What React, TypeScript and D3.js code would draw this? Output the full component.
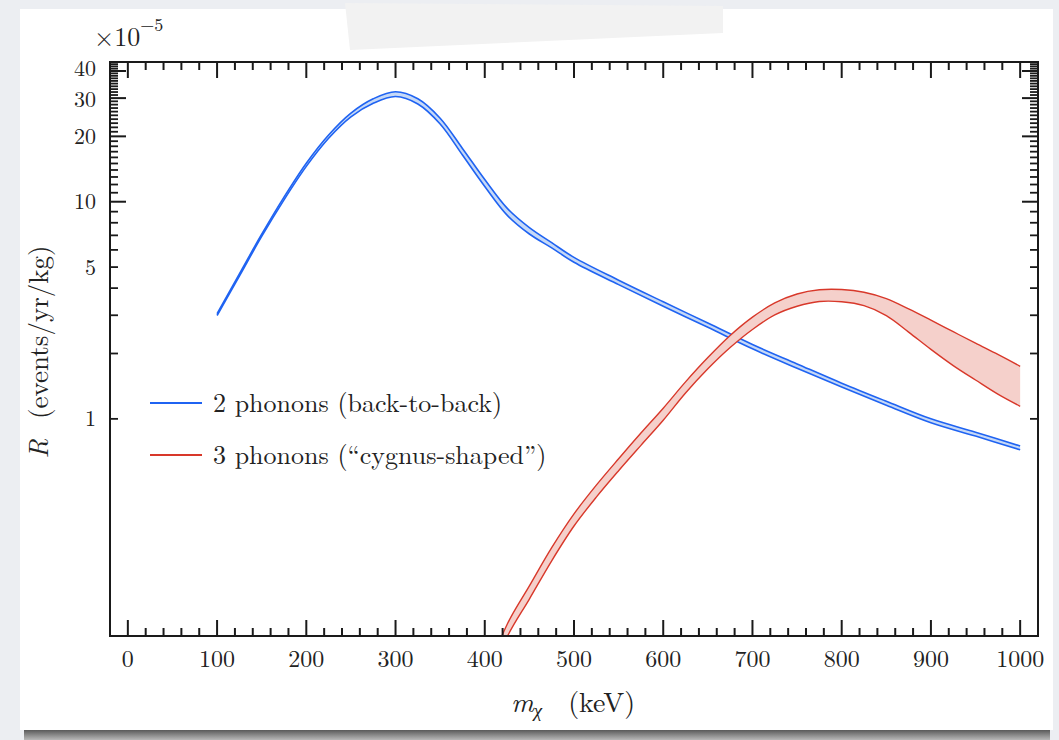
import React from "react";
import * as d3 from "d3";

// m_chi (keV) and rate (x1e-5 events/yr/kg), band edges
const blueX = [100, 125, 150, 175, 200, 225, 250, 275, 300, 325, 350, 375, 400, 425, 450, 475, 500, 550, 600, 650, 700, 750, 800, 850, 900, 950, 1000];
const blueHigh = [3.048, 4.653, 7.081, 10.5, 15.05, 20.3, 25.6, 29.8, 32.1, 29.8, 24.25, 17.6, 12.65, 9.34, 7.6, 6.48, 5.54, 4.35, 3.46, 2.763, 2.2, 1.791, 1.46, 1.205, 1.0, 0.868, 0.75];
const blueLow = [2.992, 4.547, 6.92, 10.2, 14.55, 19.6, 24.6, 28.4, 30.52, 28.2, 22.8, 16.4, 11.75, 8.67, 7.1, 6.13, 5.26, 4.15, 3.3, 2.639, 2.101, 1.71, 1.401, 1.156, 0.96, 0.833, 0.72];

const redX = [400, 425, 450, 475, 500, 525, 550, 575, 600, 625, 650, 675, 700, 725, 750, 775, 800, 825, 850, 875, 900, 925, 950, 975, 1000];
const redHigh = [0.063, 0.113, 0.17, 0.255, 0.365, 0.495, 0.655, 0.86, 1.12, 1.48, 1.915, 2.42, 2.94, 3.42, 3.76, 3.93, 3.94, 3.83, 3.58, 3.21, 2.85, 2.52, 2.23, 1.98, 1.746];
const redLow = [0.055, 0.099, 0.148, 0.222, 0.321, 0.436, 0.577, 0.755, 0.985, 1.315, 1.7, 2.13, 2.58, 3.01, 3.3, 3.47, 3.46, 3.32, 2.99, 2.51, 2.09, 1.76, 1.51, 1.3, 1.143];

const xMajor = [0, 100, 200, 300, 400, 500, 600, 700, 800, 900, 1000];
const xMinor = d3.range(20, 1000, 20).filter((v) => v % 100 !== 0);
const yLabels = [1, 5, 10, 20, 30, 40];
const yLong = [10, 20, 30, 40];
const yShort = d3.range(1, 45).filter((v) => !yLong.includes(v));

const legendNames = ["2 phonons (back-to-back)", "3 phonons (\u201ccygnus-shaped\u201d)"];

const W = 1059;
const H = 740;
const L = 110, R = 1038, T = 62, B = 636;
const FONT = "Latin Modern Roman, Liberation Serif, Times New Roman, DejaVu Serif, Noto Serif, serif";
const BLUE = "#1f63f2";
const BLUE_FILL = "#c6d9f7";
const RED = "#d8382a";
const RED_FILL = "#f5d0cb";

export default function App() {
  const x = d3.scaleLinear().domain([-20, 1020]).range([L, R]);
  const y = d3.scaleLog().domain([0.1, 44]).range([B, T]);

  const band = (xs: number[], lo: number[], hi: number[]) => {
    const pts = xs.map((v, i) => ({ x: v, lo: lo[i], hi: hi[i] }));
    const curve = d3.curveCatmullRom.alpha(0.5);
    const area = d3.area<any>().x((d) => x(d.x)).y0((d) => y(d.lo)).y1((d) => y(d.hi)).curve(curve);
    const lineLo = d3.line<any>().x((d) => x(d.x)).y((d) => y(d.lo)).curve(curve);
    const lineHi = d3.line<any>().x((d) => x(d.x)).y((d) => y(d.hi)).curve(curve);
    return { a: area(pts) || "", l: lineLo(pts) || "", h: lineHi(pts) || "" };
  };
  const blue = band(blueX, blueLow, blueHigh);
  const red = band(redX, redLow, redHigh);

  const tickStroke = "#1a1a1a";
  const txt = { fontFamily: FONT, fill: "#222" };

  return (
    <svg width={W} height={H} style={{ position: "absolute", left: 0, top: 0, fontFamily: FONT }}>
      <defs>
        <linearGradient id="shadow" x1="0" y1="0" x2="0" y2="1">
          <stop offset="0" stopColor="#5a5a5a" />
          <stop offset="1" stopColor="#b8b8b8" />
        </linearGradient>
        <clipPath id="plot">
          <rect x={L} y={T} width={R - L} height={B - T} />
        </clipPath>
      </defs>
      <rect width={W} height={H} fill="#eceef2" />
      <rect x={24} y={730} width={1026} height={10} fill="url(#shadow)" />
      <rect x={20} y={9} width={1033} height={721} fill="#ffffff" />
      <polygon points="345,3 723,6 723,33 350,50" fill="#f2f2f2" />

      {/* bands */}
      <g clipPath="url(#plot)">
        <path d={blue.a} fill={BLUE_FILL} />
        <path d={blue.l} fill="none" stroke={BLUE} strokeWidth={1.6} />
        <path d={blue.h} fill="none" stroke={BLUE} strokeWidth={1.6} />
        <path d={red.a} fill={RED_FILL} />
        <path d={red.l} fill="none" stroke={RED} strokeWidth={1.4} />
        <path d={red.h} fill="none" stroke={RED} strokeWidth={1.4} />
      </g>

      {/* frame */}
      <rect x={L} y={T} width={R - L} height={B - T} fill="none" stroke={tickStroke} strokeWidth={2} />

      {/* x ticks */}
      {xMajor.map((v) => (
        <g key={"xm" + v}>
          <line x1={x(v)} x2={x(v)} y1={B} y2={B - 16} stroke={tickStroke} strokeWidth={2} />
          <line x1={x(v)} x2={x(v)} y1={T} y2={T + 16} stroke={tickStroke} strokeWidth={2} />
          <text x={x(v)} y={667} textAnchor="middle" fontSize={24} style={txt}>{v}</text>
        </g>
      ))}
      {xMinor.map((v) => (
        <g key={"xn" + v}>
          <line x1={x(v)} x2={x(v)} y1={B} y2={B - 8} stroke={tickStroke} strokeWidth={2} />
          <line x1={x(v)} x2={x(v)} y1={T} y2={T + 8} stroke={tickStroke} strokeWidth={2} />
        </g>
      ))}

      {/* y ticks */}
      {yLong.map((v) => (
        <g key={"yl" + v}>
          <line x1={L} x2={L + 16} y1={y(v)} y2={y(v)} stroke={tickStroke} strokeWidth={2} />
          <line x1={R} x2={R - 16} y1={y(v)} y2={y(v)} stroke={tickStroke} strokeWidth={2} />
        </g>
      ))}
      {yShort.map((v) => (
        <g key={"ys" + v}>
          <line x1={L} x2={L + 8} y1={y(v)} y2={y(v)} stroke={tickStroke} strokeWidth={1.8} />
          <line x1={R} x2={R - 8} y1={y(v)} y2={y(v)} stroke={tickStroke} strokeWidth={1.8} />
        </g>
      ))}
      {yLabels.map((v) => (
        <text key={"yt" + v} x={96} y={y(v) + (v === 40 ? -2 : v === 30 ? 1 : 0)} dy="0.34em" textAnchor="end" fontSize={22} style={txt}>{v}</text>
      ))}

      {/* exponent */}
      <text x={94} y={46} fontSize={26} style={txt}>
        {"\u00d710"}
        <tspan dy={-15} fontSize={18}>{"\u22125"}</tspan>
      </text>

      {/* axis titles */}
      <text x={573} y={712} textAnchor="middle" fontSize={28} style={txt}>
        <tspan fontStyle="italic">m</tspan>
        <tspan fontStyle="italic" fontSize={19} dy={5}>{"\u03c7"}</tspan>
        <tspan dy={-5} dx={26}>(keV)</tspan>
      </text>
      <text transform="translate(48,352) rotate(-90)" textAnchor="middle" fontSize={27} style={txt}>
        <tspan fontStyle="italic">R</tspan>
        <tspan dx={20}>(events/yr/kg)</tspan>
      </text>

      {/* legend */}
      {legendNames.map((n, i) => (
        <g key={n} transform={`translate(150,${403 + i * 52})`}>
          <line x1={0} x2={52} y1={0} y2={0} stroke={i === 0 ? BLUE : RED} strokeWidth={2.2} />
          <text x={63} y={0} dy="0.33em" fontSize={26} style={txt}>{n}</text>
        </g>
      ))}
    </svg>
  );
}
